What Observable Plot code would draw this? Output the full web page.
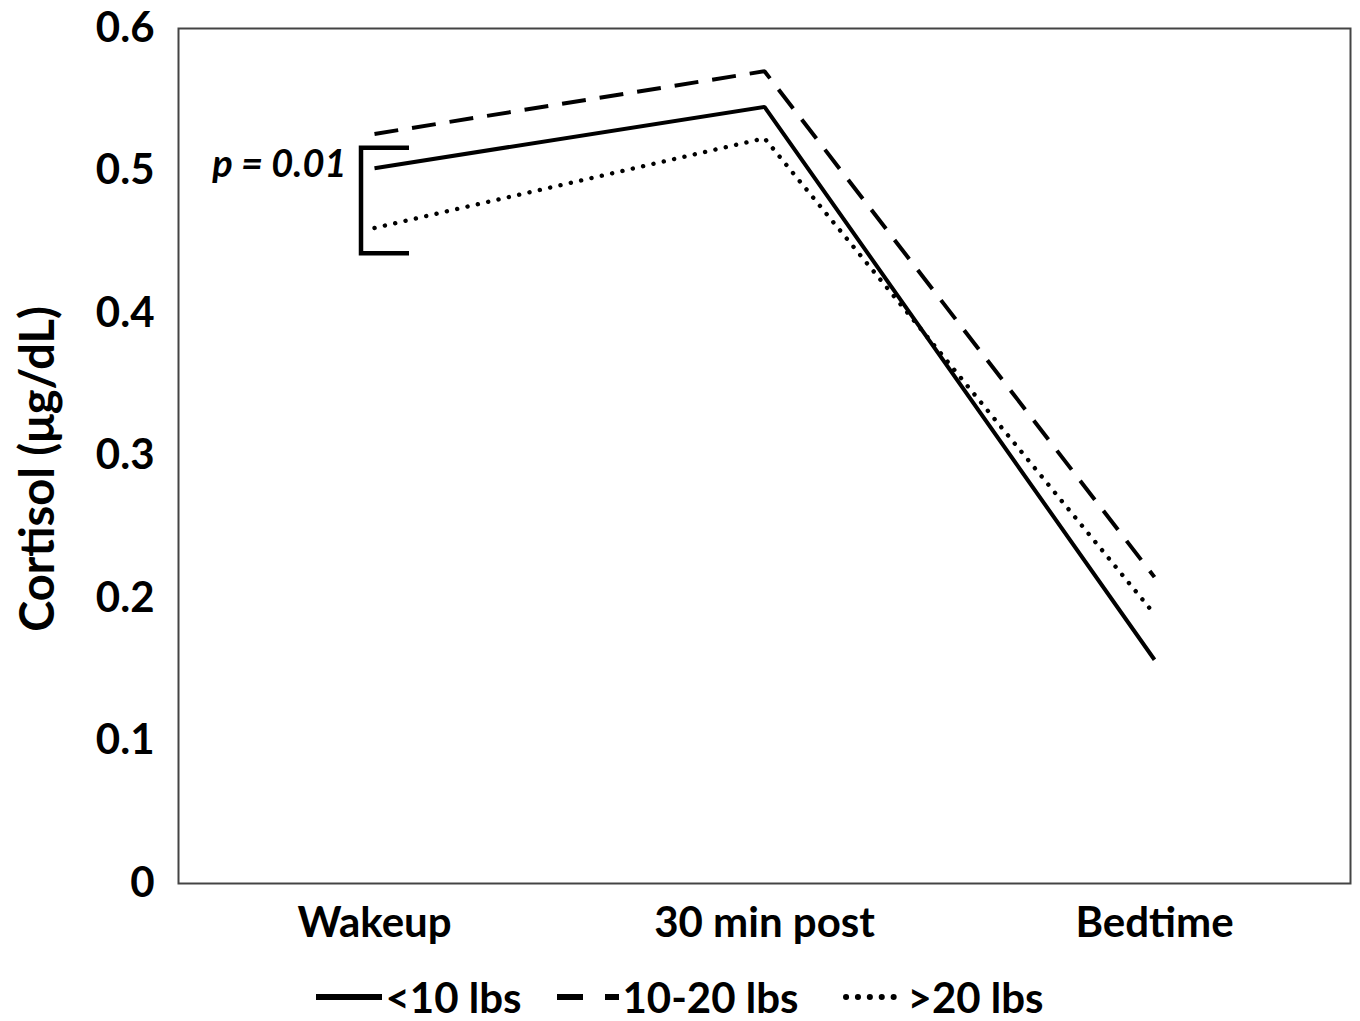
<!DOCTYPE html>
<html>
<head>
<meta charset="utf-8">
<script src="https://cdn.jsdelivr.net/npm/d3@7"></script>
<script src="https://cdn.jsdelivr.net/npm/@observablehq/plot@0.6"></script>
<style>
  html, body { margin: 0; padding: 0; background: #fff; }
  body { width: 1360px; height: 1021px; overflow: hidden; font-family: Lato, "Open Sans", sans-serif; }
  #legend { display: flex; justify-content: center; align-items: center; margin-top: 12px; margin-left: 0px;
            font-family: Lato, sans-serif; font-weight: bold; font-size: 42px; color: #000; }
  .item { display: flex; align-items: center; }
  .item svg { margin-right: 3px; }
</style>
</head>
<body>
<div id="chart"></div>
<div id="legend"></div>
<script>
const times = ["Wakeup", "30 min post", "Bedtime"];
const seriesNames = ["<10 lbs", "10-20 lbs", ">20 lbs"];
const under10 = [0.502, 0.545, 0.157];
const from10to20 = [0.526, 0.570, 0.215];
const over20 = [0.460, 0.523, 0.189];
const yTicks = [0, 0.1, 0.2, 0.3, 0.4, 0.5, 0.6];
const bracketRange = [0.516, 0.442];
const pLabel = "p = 0.01";
const dashes = ["none", "24 14", "0.1 10.5"];
const widths = [4, 4, 4.4];

const valuesBySeries = [under10, from10to20, over20];
const rows = [];
seriesNames.forEach((s, i) => times.forEach((t, j) => rows.push({series: s, time: t, value: valuesBySeries[i][j]})));

const lineMarks = seriesNames.map((s, i) => Plot.line(rows.filter(d => d.series === s), {
  x: "time", y: "value", stroke: "#000", strokeWidth: widths[i],
  strokeDasharray: dashes[i] === "none" ? undefined : dashes[i],
  strokeLinecap: i === 2 ? "round" : "butt", strokeLinejoin: "miter"
}));

const bracketMark = (index, scales) => {
  const ns = "http://www.w3.org/2000/svg";
  const x0 = scales.x(times[0]);
  const yTop = scales.y(bracketRange[0]);
  const yBot = scales.y(bracketRange[1]);
  const xl = x0 - 13, xr = x0 + 35;
  const p = document.createElementNS(ns, "path");
  p.setAttribute("d", `M${xr},${yTop}H${xl}V${yBot}H${xr}`);
  p.setAttribute("fill", "none");
  p.setAttribute("stroke", "#000");
  p.setAttribute("stroke-width", 4.5);
  p.setAttribute("stroke-linejoin", "miter");
  return p;
};

const chart = Plot.plot({
  width: 1360,
  height: 960,
  marginLeft: 178,
  marginRight: 10,
  marginTop: 28,
  marginBottom: 77,
  style: {fontFamily: "Lato, sans-serif", fontWeight: "bold", fontSize: "42px", color: "#000", background: "#fff"},
  x: {type: "point", domain: times, padding: 0.5},
  y: {domain: [0, 0.6]},
  marks: [
    Plot.axisY({ticks: yTicks, tickSize: 0, tickPadding: 24, label: null,
      tickFormat: d => d === 0 ? "0" : d.toFixed(1), fontSize: 42}),
    Plot.text(["Cortisol (μg/dL)"], {frameAnchor: "left", dx: -140, rotate: -90, text: d => d,
      textAnchor: "middle", fontSize: 47, fontWeight: "bold", dy: 13}),
    Plot.axisX({tickSize: 0, tickPadding: 24, label: null, fontSize: 42}),
    Plot.frame({stroke: "#444", strokeWidth: 2}),
    ...lineMarks,
    bracketMark,
    Plot.text([pLabel], {x: () => times[0], y: () => under10[0], text: d => d, textAnchor: "end",
      dx: -28, dy: -3, fontStyle: "italic", fontWeight: "bold", fontSize: 38})
  ]
});
document.getElementById("chart").appendChild(chart);

// legend
const legend = document.getElementById("legend");
const gapsBefore = [0, 36, 44];
seriesNames.forEach((s, i) => {
  const item = document.createElement("div");
  item.className = "item";
  item.style.marginLeft = gapsBefore[i] + "px";
  let sample;
  if (i === 1) {
    sample = `<svg width="62" height="20"><path d="M0,10H26M48,10H62" stroke="#000" stroke-width="6"/></svg>`;
  } else if (i === 2) {
    sample = `<svg width="62" height="20"><line x1="3" y1="10" x2="60" y2="10" stroke="#000" stroke-width="6" stroke-linecap="round" stroke-dasharray="0.1 11.8"/></svg>`;
  } else {
    sample = `<svg width="66" height="20"><line x1="0" y1="10" x2="66" y2="10" stroke="#000" stroke-width="6"/></svg>`;
  }
  item.innerHTML = sample + `<span>${s.replace("<", "&lt;").replace(">", "&gt;")}</span>`;
  legend.appendChild(item);
});
</script>
</body>
</html>
